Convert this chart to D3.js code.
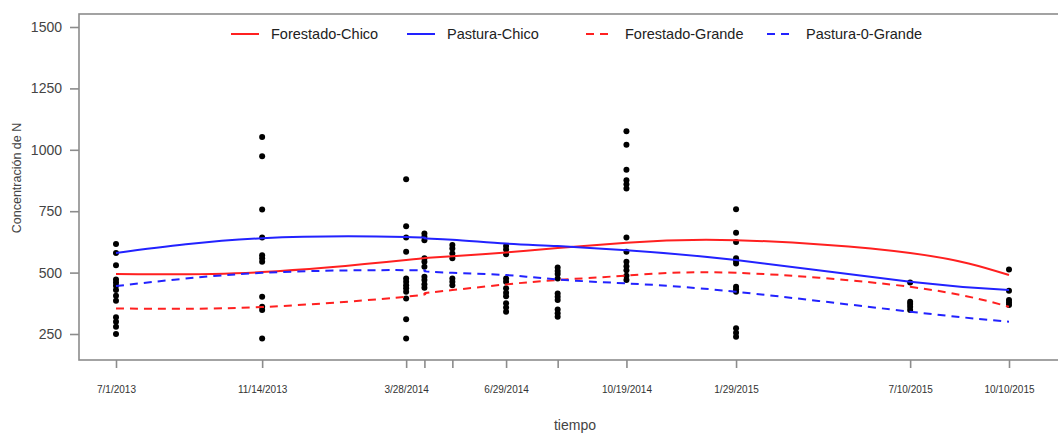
<!DOCTYPE html>
<html>
<head>
<meta charset="utf-8">
<script src="https://cdn.jsdelivr.net/npm/d3@7"></script>
<style>
  body { margin: 0; background: #fff; }
  text { font-family: "Liberation Sans", Arial, sans-serif; }
</style>
</head>
<body>
<script>
// sampling dates and their axis labels (blank = label dropped for overlap)
var fechas = ["2013-07-01", "2013-11-14", "2014-03-28", "2014-04-14", "2014-05-10",
              "2014-06-29", "2014-08-16", "2014-10-19", "2015-01-29", "2015-07-10", "2015-10-10"];
var etiquetas = ["7/1/2013", "11/14/2013", "3/28/2014", "", "", "6/29/2014", "",
                 "10/19/2014", "1/29/2015", "7/10/2015", "10/10/2015"];

// observed N concentrations per sampling date
var obs = [
  [616, 580, 530, 472, 460, 446, 429, 406, 385, 318, 300, 280, 250],
  [1052, 974, 757, 643, 571, 558, 544, 402, 361, 348, 232],
  [880, 689, 643, 585, 476, 463, 449, 436, 422, 395, 310, 232],
  [659, 646, 632, 558, 544, 524, 483, 470, 453, 438],
  [612, 598, 578, 558, 476, 463, 449],
  [608, 594, 575, 476, 463, 436, 418, 404, 375, 358, 341],
  [521, 507, 494, 476, 415, 402, 388, 350, 334, 320],
  [1076, 1021, 919, 876, 860, 842, 643, 585, 544, 526, 510, 487, 470],
  [758, 662, 625, 558, 548, 537, 442, 431, 422, 273, 255, 239],
  [460, 381, 372, 361, 348],
  [513, 426, 388, 378, 368]
];

// fitted curves read at each sampling date
var forestadoChico = [494, 502, 551, 559, 567, 582, 600, 622, 632, 580, 490];
var pasturaChico   = [580, 640, 645, 640, 634, 618, 608, 591, 551, 463, 429];
var forestadoGrande = [354, 360, 402, 415, 429, 452, 470, 488, 499, 442, 361];
var pasturaGrande   = [445, 499, 510, 506, 499, 490, 472, 456, 422, 341, 300];

var yTicks = [250, 500, 750, 1000, 1250, 1500];

var W = 1058, H = 433;
var parse = d3.timeParse("%Y-%m-%d");
var dates = fechas.map(parse);

var svg = d3.select("body").append("svg")
    .attr("width", W)
    .attr("height", H);

var x = d3.scaleTime()
    .domain([dates[0], dates[dates.length - 1]])
    .range([116, 1009]);

var y = d3.scaleLinear()
    .domain([250, 1500])
    .range([334, 27]);

var plotLeft = 79, plotTop = 14, plotBottom = 360;

// --- frame ---
svg.append("rect")
    .attr("x", plotLeft)
    .attr("y", plotTop)
    .attr("width", 1100 - plotLeft)
    .attr("height", plotBottom - plotTop)
    .style("fill", "none")
    .style("stroke", "#8c8c8c")
    .style("stroke-width", 1.6);

// --- y axis ---
var yAxis = svg.append("g")
    .attr("transform", "translate(" + plotLeft + ",0)")
    .call(d3.axisLeft(y).tickValues(yTicks).tickSize(9).tickPadding(8).tickFormat(d3.format("d")));
yAxis.select(".domain").remove();
yAxis.selectAll("line").style("stroke", "#8c8c8c").style("stroke-width", 1.6);
yAxis.selectAll("text").style("font-size", "14px").style("fill", "#444");

// --- x axis ---
var xAxis = svg.append("g")
    .attr("transform", "translate(0," + plotBottom + ")")
    .call(d3.axisBottom(x).tickValues(dates).tickSize(8).tickPadding(18)
        .tickFormat(function(d, i) { return etiquetas[i]; }));
xAxis.select(".domain").remove();
xAxis.selectAll("line").style("stroke", "#8c8c8c").style("stroke-width", 1.6);
xAxis.selectAll("text").style("font-size", "10px").style("fill", "#333");

// --- axis titles ---
svg.append("text")
    .attr("transform", "translate(21,178) rotate(-90)")
    .attr("text-anchor", "middle")
    .style("font-size", "12.5px")
    .style("fill", "#444")
    .text("Concentración de N");

svg.append("text")
    .attr("x", 575)
    .attr("y", 430)
    .attr("text-anchor", "middle")
    .style("font-size", "14px")
    .style("fill", "#444")
    .text("tiempo");

// --- points ---
var puntos = [];
obs.forEach(function(vals, i) {
    vals.forEach(function(v) { puntos.push({ date: dates[i], value: v }); });
});

svg.selectAll(".pt")
    .data(puntos)
    .enter()
    .append("circle")
    .attr("class", "pt")
    .attr("cx", d => x(d.date))
    .attr("cy", d => y(d.value))
    .attr("r", 3)
    .style("fill", "#000");

// --- curves ---
var series = [
    { name: "Forestado-Chico", values: forestadoChico, color: "#ff2020", dash: null },
    { name: "Pastura-Chico", values: pasturaChico, color: "#2222ff", dash: null },
    { name: "Forestado-Grande", values: forestadoGrande, color: "#ff2020", dash: "8,6" },
    { name: "Pastura-0-Grande", values: pasturaGrande, color: "#2222ff", dash: "8,6" }
];

var line = d3.line()
    .x((d, i) => x(dates[i]))
    .y(d => y(d))
    .curve(d3.curveNatural);

svg.selectAll(".curve")
    .data(series)
    .enter()
    .append("path")
    .attr("class", "curve")
    .attr("d", d => line(d.values))
    .style("fill", "none")
    .style("stroke", d => d.color)
    .style("stroke-width", 2)
    .style("stroke-dasharray", d => d.dash);

// --- legend ---
var legX = [231, 407, 586, 767];
var leg = svg.selectAll(".leg")
    .data(series)
    .enter()
    .append("g")
    .attr("class", "leg")
    .attr("transform", (d, i) => "translate(" + legX[i] + ",34)");

leg.append("line")
    .attr("x1", 0)
    .attr("x2", 28)
    .style("stroke", d => d.color)
    .style("stroke-width", 2)
    .style("stroke-dasharray", d => d.dash);

leg.append("text")
    .attr("x", (d, i) => i < 2 ? 40 : 39)
    .attr("dy", "0.35em")
    .style("font-size", "14.5px")
    .style("fill", "#222")
    .text(d => d.name);
</script>
</body>
</html>
